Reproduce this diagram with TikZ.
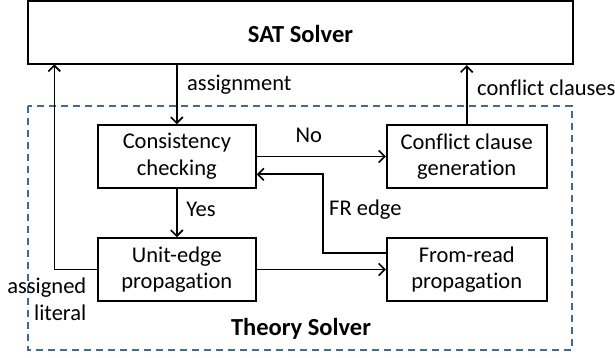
\documentclass[tikz,border=0pt]{standalone}
\usepackage{fontspec}
\setmainfont[Ligatures={NoCommon}]{Carlito}
\usetikzlibrary{arrows.meta}
\definecolor{dashblue}{RGB}{65,106,155}
\begin{document}
\begin{tikzpicture}[x=1pt,y=-1pt,
  box/.style={draw=black,line width=1.7pt,minimum width=158pt,minimum height=63pt,align=center,inner sep=0pt,font=\fontsize{22.5}{26.7}\selectfont},
  lbl/.style={inner sep=0pt,font=\fontsize{22.5}{26.7}\selectfont},
  arr/.style={line width=1.6pt,-{Straight Barb[length=6pt,width=12pt,line width=1.6pt]}},
  title/.style={inner sep=0pt,font=\fontsize{24.5}{28}\selectfont\bfseries}]
\useasboundingbox (0,0) rectangle (615,358);
\fill[white] (0,0) rectangle (615,358);
% dashed theory solver frame
\draw[dashblue,line width=2.2pt,dash pattern=on 7pt off 5pt] (27.7,106) rectangle (572,350);
% SAT solver
\node[draw=black,line width=1.7pt,minimum width=545pt,minimum height=63.3pt,inner sep=0pt] (sat) at (300.2,32.7) {};
\node[title] (sattxt) at (300.5,34) {SAT Solver};
\node[title] (ts) at (301,329) {Theory Solver};
% boxes
\node[box] (cc) at (176.85,156.5) {Consistency\\checking};
\node[box,minimum width=160pt] (cg) at (466.7,156.5) {Conflict clause\\generation};
\node[box] (ue) at (176.85,269.5) {Unit-edge\\propagation};
\node[box,minimum width=160pt] (fr) at (466.7,269.5) {From-read\\propagation};
% connectors
\draw[arr] (sat.south -| cc) -- (cc.north);
\draw[arr] (cg.north) -- (sat.south -| cg);
\draw[arr] (cc.east) -- (cg.west);
\draw[arr] (cc.south) -- (ue.north);
\draw[arr] (ue.east) -- (fr.west);
\coordinate (frout) at (fr.west |- 0,253);
\coordinate (frbend) at (322.7,174.3);
\coordinate (ccin) at (cc.east |- 0,174.3);
\draw[arr] (frout) -| (frbend) -- (ccin);
\coordinate (satin) at (54.3,64.3);
\draw[arr] (ue.west) -| (satin);
% labels
\node[lbl,anchor=west] (la) at (187,85) {assignment};
\node[lbl,anchor=west] (lc) at (477,88) {conflict clauses};
\node[lbl] (lno) at (308.7,135) {No};
\node[lbl] (lyes) at (201,209) {Yes};
\node[lbl,anchor=west] (lfr) at (329,210) {FR edge};
\node[lbl,anchor=east,align=right] (lal) at (86.5,299.5) {assigned\\literal};
\end{tikzpicture}
\end{document}
